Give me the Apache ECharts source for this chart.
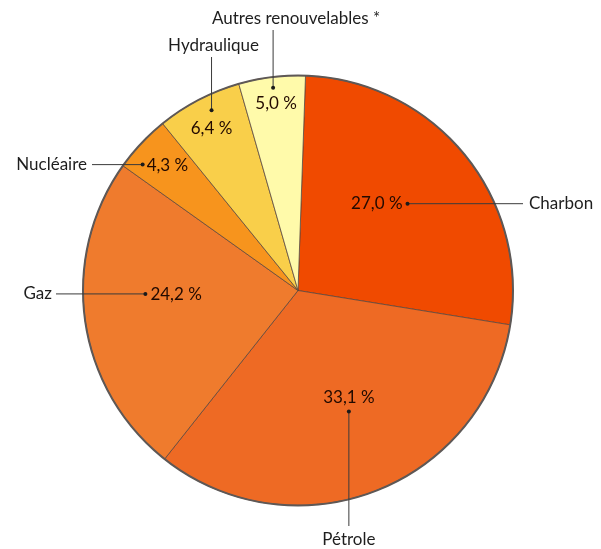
<!DOCTYPE html>
<html>
<head>
<meta charset="utf-8">
<script src="https://cdn.jsdelivr.net/npm/echarts@6/dist/echarts.min.js"></script>
<style>
  html, body { margin: 0; padding: 0; background: #fff; }
  #chart { width: 601px; height: 549px; }
</style>
</head>
<body>
<div id="chart"></div>
<script>
const categories = ['Charbon', 'Pétrole', 'Gaz', 'Nucléaire', 'Hydraulique', 'Autres renouvelables *'];
const shares = [27.0, 33.1, 24.2, 4.3, 6.4, 5.0];
const colors = ['#F04A00', '#EE6A24', '#EF7B2D', '#F7941D', '#F9CF4A', '#FFFAAA'];

// pie geometry
const cx = 298, cy = 290.5, R = 215, startAngle = 88;

// where the dot / leader / name sit for each slice
const layout = [
  { r: 0.65, turn: 1,    dir: 'h', lineTo: 523, nameX: 529, nameAlign: 'left',   pct: [-5, 0],  pctAlign: 'right' },
  { r: 0.61, turn: -1.6, dir: 'v', lineTo: 526, nameY: 540,                      pct: [0, -14], pctAlign: 'center' },
  { r: 0.71, turn: 6.8,  dir: 'h', lineTo: 56,  nameX: 52,  nameAlign: 'right',  pct: [5, 1],   pctAlign: 'left' },
  { r: 0.93, turn: -4.2, dir: 'h', lineTo: 92,  nameX: 87,  nameAlign: 'right',  pct: [4, 1],   pctAlign: 'left' },
  { r: 0.93, turn: 1.9,  dir: 'v', lineTo: 57,  nameY: 46,  nameDx: 2,           pct: [0, 18],  pctAlign: 'center' },
  { r: 0.95, turn: 0,    dir: 'v', lineTo: 30,  nameY: 19,  nameDx: 23,          pct: [3, 16],  pctAlign: 'center' }
];

const FONT = '17px Lato, "Open Sans", sans-serif';
const total = shares.reduce((a, b) => a + b, 0);

function fmt(v) {
  return v.toFixed(1).replace('.', ',') + ' %';
}

function txt(text, x, y, align, color) {
  return {
    type: 'text', z: 20,
    style: {
      text: text, x: x, y: y, font: FONT, fill: color,
      align: align, verticalAlign: 'middle',
      textAlign: align, textVerticalAlign: 'middle'
    }
  };
}

const graphics = [];
let acc = 0;
shares.forEach((v, i) => {
  const mid = 90 - startAngle + (acc + v / 2) / total * 360 + layout[i].turn;
  acc += v;
  const L = layout[i];
  const a = mid * Math.PI / 180;
  const px = cx + L.r * R * Math.sin(a);
  const py = cy - L.r * R * Math.cos(a);

  let line, name;
  if (L.dir === 'h') {
    line = { x1: px, y1: py, x2: L.lineTo, y2: py };
    name = txt(categories[i], L.nameX, py, L.nameAlign, '#1e1e1e');
  } else {
    line = { x1: px, y1: py, x2: px, y2: L.lineTo };
    name = txt(categories[i], px + (L.nameDx || 0), L.nameY, 'center', '#1e1e1e');
  }
  graphics.push({ type: 'line', z: 18, shape: line, style: { stroke: '#3a3a3a', lineWidth: 1 } });
  graphics.push({ type: 'circle', z: 19, shape: { cx: px, cy: py, r: 2 }, style: { fill: '#1a1a1a' } });
  graphics.push(name);
  graphics.push(txt(fmt(v), px + L.pct[0], py + L.pct[1], L.pctAlign, '#220a00'));
});

// outer rim of the pie
graphics.push({
  type: 'circle', z: 15,
  shape: { cx: cx, cy: cy, r: R },
  style: { fill: 'none', stroke: '#5e5856', lineWidth: 2 }
});

const chart = echarts.init(document.getElementById('chart'));
chart.setOption({
  animation: false,
  backgroundColor: '#fff',
  series: [{
    type: 'pie',
    center: [cx, cy],
    radius: R,
    startAngle: startAngle,
    clockwise: true,
    avoidLabelOverlap: false,
    label: { show: false },
    labelLine: { show: false },
    itemStyle: { borderColor: 'rgba(90,70,60,0.75)', borderWidth: 1 },
    emphasis: { disabled: true },
    data: categories.map((c, i) => ({ name: c, value: shares[i], itemStyle: { color: colors[i] } }))
  }],
  graphic: { elements: graphics }
});
</script>
</body>
</html>
